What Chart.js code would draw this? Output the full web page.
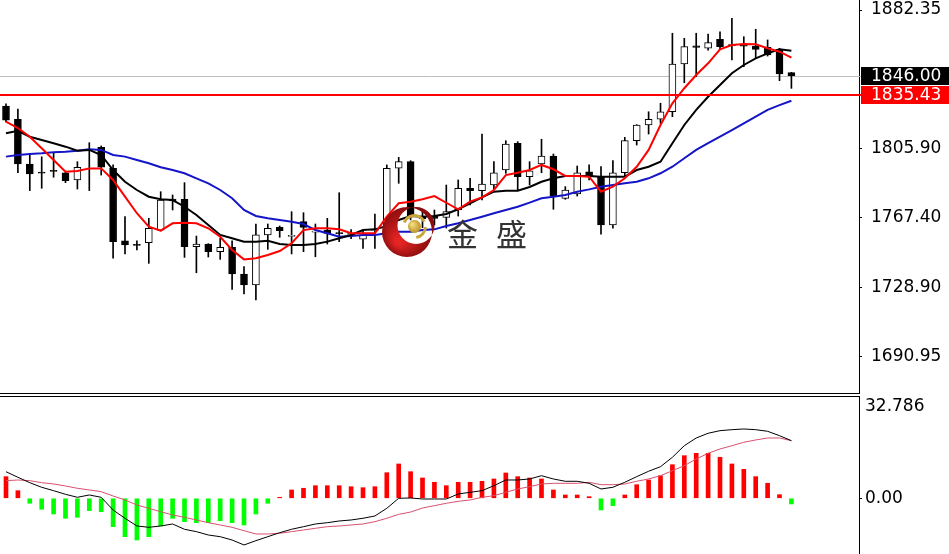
<!DOCTYPE html>
<html>
<head>
<meta charset="utf-8">
<script src="https://cdn.jsdelivr.net/npm/chart.js@4.4.0/dist/chart.umd.min.js"></script>
<style>
  html, body { margin: 0; padding: 0; background: #fff; }
  #wrap { position: relative; width: 949px; height: 554px; overflow: hidden; }
  #mainChart { position: absolute; left: 0; top: 0; }
  #macdChart { position: absolute; left: 0; top: 394px; }
</style>
</head>
<body>
<div id="wrap">
  <canvas id="mainChart" width="949" height="394"></canvas>
  <canvas id="macdChart" width="949" height="160"></canvas>
</div>
<script>
// candles
var open = [1829.3, 1821.9, 1797.2, 1792.7, 1793.5, 1792.4, 1788.4, 1804.8, 1806.45, 1794.85,
    1754.8, 1752.7, 1753.7, 1760.7, 1777.8, 1777.7, 1751.5, 1753.0, 1748.75, 1751.2,
    1736.4, 1730.4, 1758.0, 1762.2, 1757.2, 1765.35, 1759.6, 1760.7, 1759.1, 1758.3,
    1755.6, 1760.5, 1759.6, 1794.85, 1798.5, 1768.5, 1768.45, 1767.75, 1771.8, 1783.8,
    1782.45, 1785.6, 1793.9, 1808.65, 1790.2, 1797.2, 1801.6, 1778.25, 1780.65, 1792.95,
    1790.2, 1763.5, 1792.4, 1810.1, 1818.8, 1821.95, 1826.1, 1852.5, 1862.5, 1861.2,
    1866.15, 1863.2, 1862.8, 1862.45, 1861.75, 1860.6, 1847.7];

var high = [1830.5, 1827.6, 1802.2, 1801.2, 1803.5, 1792.8, 1798.5, 1809.0, 1807.2, 1796.7,
    1768.1, 1754.8, 1767.2, 1781.9, 1780.1, 1786.9, 1757.4, 1753.2, 1756.1, 1754.8,
    1740.45, 1764.05, 1764.05, 1762.95, 1770.85, 1770.3, 1764.05, 1767.2, 1781.35, 1761.0,
    1760.7, 1769.6, 1796.7, 1800.9, 1799.05, 1772.0, 1771.8, 1785.6, 1788.4, 1789.3,
    1813.8, 1798.5, 1810.1, 1809.55, 1798.5, 1810.9, 1802.75, 1784.7, 1796.1, 1796.7,
    1795.75, 1799.05, 1811.95, 1819.0, 1826.1, 1830.8, 1869.5, 1866.7, 1869.5, 1869.1,
    1870.35, 1877.75, 1867.6, 1871.7, 1865.8, 1861.2, 1847.9];

var low = [1820.5, 1792.4, 1782.5, 1783.8, 1789.9, 1786.9, 1783.4, 1782.5, 1791.1, 1745.1,
    1747.5, 1749.7, 1742.3, 1760.2, 1771.8, 1745.6, 1737.1, 1745.8, 1744.5, 1727.95,
    1725.35, 1722.05, 1750.05, 1756.7, 1747.5, 1748.75, 1745.95, 1753.0, 1754.3, 1756.0,
    1750.6, 1750.6, 1755.2, 1786.55, 1766.3, 1762.0, 1763.5, 1761.8, 1768.45, 1774.55,
    1777.3, 1782.85, 1792.05, 1782.85, 1785.6, 1792.4, 1772.2, 1777.7, 1779.5, 1788.4,
    1758.5, 1761.7, 1790.6, 1807.7, 1813.8, 1819.7, 1823.4, 1842.15, 1845.5, 1860.2,
    1861.0, 1854.7, 1851.0, 1855.65, 1856.9, 1843.3, 1839.05];

var close = [1821.5, 1797.2, 1791.7, 1792.1, 1793.1, 1788.0, 1795.4, 1805.3, 1795.4, 1754.3,
    1752.45, 1752.2, 1761.7, 1777.3, 1776.8, 1751.5, 1753.0, 1748.75, 1751.2, 1736.4,
    1730.4, 1758.0, 1761.7, 1760.35, 1757.7, 1762.2, 1760.0, 1758.9, 1758.7, 1758.7,
    1758.0, 1760.9, 1794.85, 1798.5, 1768.45, 1767.0, 1767.2, 1770.85, 1783.8, 1782.45,
    1786.15, 1792.4, 1808.3, 1790.2, 1793.5, 1801.6, 1779.5, 1782.85, 1792.4, 1790.2,
    1763.5, 1792.4, 1810.1, 1818.8, 1821.95, 1826.1, 1852.5, 1862.1, 1861.6, 1864.3,
    1862.1, 1862.7, 1862.3, 1860.6, 1857.5, 1847.0, 1846.0];

// moving averages (red / black / blue)
var maFast = [1820.6, 1817.1, 1812.3, 1805.9, 1799.4, 1793.0, 1793.35, 1794.8, 1794.8, 1788.4,
    1779.15, 1770.0, 1762.55, 1760.35, 1764.45, 1764.8, 1764.45, 1761.7, 1757.0, 1749.7,
    1744.5, 1745.1, 1746.9, 1749.1, 1753.4, 1760.7, 1761.7, 1761.7, 1761.1, 1758.9,
    1758.9, 1758.9, 1768.1, 1775.5, 1776.4, 1777.7, 1779.5, 1775.8, 1772.2, 1776.4,
    1778.8, 1782.85, 1791.1, 1792.4, 1793.9, 1796.7, 1794.3, 1790.6, 1790.6, 1790.2,
    1781.9, 1784.7, 1789.3, 1795.7, 1805.0, 1818.8, 1830.8, 1839.1, 1846.4, 1852.9,
    1860.6, 1863.0, 1863.6, 1863.4, 1861.2, 1859.3, 1856.0];

var maMid = [1814.2, 1815.6, 1812.3, 1810.5, 1808.7, 1806.8, 1804.6, 1805.0, 1802.2, 1793.9,
    1787.4, 1782.85, 1779.15, 1777.7, 1777.3, 1773.6, 1769.0, 1763.5, 1758.0, 1756.15,
    1754.3, 1754.3, 1754.8, 1753.0, 1752.45, 1752.45, 1753.0, 1754.3, 1756.15, 1757.95,
    1760.7, 1761.1, 1762.95, 1766.3, 1768.5, 1768.1, 1768.5, 1769.6, 1772.2, 1775.5,
    1778.8, 1781.9, 1782.5, 1782.5, 1784.5, 1787.4, 1789.3, 1790.6, 1790.6, 1790.6,
    1790.2, 1790.2, 1790.2, 1793.9, 1795.7, 1798.5, 1808.7, 1818.8, 1827.1, 1834.4,
    1840.9, 1847.4, 1851.95, 1855.65, 1858.4, 1860.6, 1859.85];

var maSlow = [1801.3, 1802.2, 1802.75, 1803.1, 1803.7, 1804.0, 1804.6, 1805.35, 1805.0, 1802.2,
    1801.3, 1799.4, 1797.6, 1795.4, 1793.9, 1792.1, 1789.3, 1786.55, 1782.85, 1778.3,
    1771.8, 1768.5, 1767.2, 1766.3, 1765.3, 1764.05, 1760.7, 1758.9, 1757.0, 1757.4,
    1757.95, 1757.95, 1758.9, 1759.8, 1759.8, 1760.7, 1761.1, 1762.95, 1764.45, 1766.3,
    1768.1, 1770.0, 1771.8, 1773.6, 1775.9, 1778.3, 1779.15, 1780.1, 1781.9, 1783.2,
    1784.7, 1785.6, 1786.55, 1787.4, 1789.3, 1792.1, 1795.7, 1800.4, 1805.0, 1808.7,
    1812.3, 1816.0, 1819.7, 1823.4, 1827.1, 1829.8, 1832.2];

// lower panel
var macdHist = [7.0, 2.46, -1.62, -3.56, -5.08, -6.47, -6.15, -4.01, -4.34, -9.19,
    -12.43, -13.5, -12.43, -8.96, -6.47, -7.57, -7.9, -7.9, -7.25, -7.9,
    -8.64, -5.08, -1.62, 0.32, 2.69, 3.24, 4.08, 4.08, 4.08, 3.75,
    3.43, 3.75, 8.28, 11.1, 8.61, 6.57, 5.18, 4.08, 5.18, 5.18,
    5.5, 6.25, 8.19, 7.0, 6.57, 6.25, 2.69, 1.07, 1.07, 0.52,
    -3.79, -2.39, 1.07, 4.4, 5.92, 7.31, 10.87, 13.79, 14.56, 14.56,
    13.27, 11.1, 9.38, 7.0, 4.85, 1.17, -1.84];

var macdLine = [8.6, 6.8, 5.05, 3.56, 2.46, 1.29, 0.32, 1.07, 0.32, -3.79,
    -6.47, -8.96, -9.39, -8.96, -8.32, -10.03, -10.8, -11.88, -12.43, -13.5,
    -15.11, -13.72, -12.43, -11.13, -10.03, -9.19, -8.32, -7.9, -7.35, -7.02,
    -6.47, -5.73, -3.24, 0.0, 0.1, -0.23, -0.23, -0.23, 1.39, 1.94,
    2.46, 4.08, 5.92, 5.92, 6.25, 7.31, 6.25, 5.5, 5.5, 4.85,
    3.01, 3.56, 5.18, 7.0, 8.74, 10.23, 13.27, 17.02, 19.51, 21.04,
    21.88, 22.2, 22.43, 22.2, 21.68, 20.26, 18.64];

var signalLine = [5.7, 5.92, 5.7, 5.05, 4.63, 3.98, 3.24, 2.69, 2.14, 0.74,
    -0.55, -2.17, -3.24, -4.34, -5.4, -6.15, -7.02, -7.9, -8.64, -9.39,
    -10.49, -11.55, -11.55, -11.33, -10.8, -10.26, -9.71, -9.19, -8.96, -8.64,
    -8.32, -7.57, -6.47, -5.2, -4.45, -3.14, -2.39, -1.62, -0.97, -0.55,
    0.32, 0.84, 1.94, 3.01, 3.75, 4.63, 4.85, 4.85, 4.85, 5.18,
    4.4, 4.4, 4.63, 5.5, 6.25, 7.31, 8.93, 10.55, 12.72, 14.56,
    15.95, 17.02, 18.12, 18.87, 19.51, 19.51, 18.64];

var priceTicks = [1882.35, 1805.90, 1767.40, 1728.90, 1690.95];
var macdTicks = [0];
var macdMaxLabel = '32.786';
var bidPrice = 1846.00;
var levelPrice = 1835.43;

var bars = close.map((v, i) => i);
var bodies = open.map((o, i) => [o, close[i]]);
var wicks = low.map((l, i) => [l, high[i]]);

const axisFont = { family: 'DejaVu Sans', size: 17 };


const mainPanelDraw = {
    id: 'mainPanelDraw',
    beforeDatasetsDraw(chart) {
        const ctx = chart.ctx;
        const area = chart.chartArea;
        const y = Math.round(chart.scales.y.getPixelForValue(bidPrice)) + 0.5;
        ctx.save();
        ctx.strokeStyle = '#c0c0c0';
        ctx.lineWidth = 1;
        ctx.beginPath();
        ctx.moveTo(area.left, y);
        ctx.lineTo(area.right + 2, y);
        ctx.stroke();
        ctx.restore();
    },
    afterDatasetsDraw(chart) {
        const ctx = chart.ctx;
        const area = chart.chartArea;
        const y = chart.scales.y.getPixelForValue(levelPrice);
        ctx.save();
        ctx.strokeStyle = '#ff0000';
        ctx.lineWidth = 2;
        ctx.beginPath();
        ctx.moveTo(area.left, y);
        ctx.lineTo(area.right + 2, y);
        ctx.stroke();

        // watermark logo
        const grad = ctx.createRadialGradient(398, 242, 3, 407, 232, 26);
        grad.addColorStop(0, '#e52424');
        grad.addColorStop(1, '#8c0d0d');
        ctx.beginPath();
        ctx.arc(407, 232, 25, 0, Math.PI * 2);
        ctx.arc(416, 225.5, 18.5, 0, Math.PI * 2, true);
        ctx.fillStyle = grad;
        ctx.fill('evenodd');

        ctx.strokeStyle = '#c9a53c';
        ctx.lineWidth = 3;
        ctx.beginPath();
        ctx.arc(414.5, 226.5, 11, Math.PI * 1.12, Math.PI * 1.85);
        ctx.stroke();
        ctx.beginPath();
        ctx.arc(414.5, 226.5, 11, Math.PI * 0.02, Math.PI * 0.45);
        ctx.stroke();
        const ball = ctx.createRadialGradient(412, 224, 1, 414.5, 226.5, 7);
        ball.addColorStop(0, '#f3dc7a');
        ball.addColorStop(1, '#b88e22');
        ctx.fillStyle = ball;
        ctx.beginPath();
        ctx.arc(414.5, 226.5, 6.5, 0, Math.PI * 2);
        ctx.fill();

        ctx.fillStyle = '#333333';
        ctx.font = '31px "Noto Sans CJK SC"';
        ctx.textBaseline = 'middle';
        ctx.fillText('金', 447, 234);
        ctx.fillText('盛', 496, 234);
        ctx.restore();
    },
    afterDraw(chart) {
        const ctx = chart.ctx;
        const area = chart.chartArea;
        const yScale = chart.scales.y;
        ctx.save();
        ctx.strokeStyle = '#000';
        ctx.lineWidth = 1;
        ctx.beginPath();
        ctx.moveTo(0, area.bottom + 0.5);
        ctx.lineTo(area.right + 1, area.bottom + 0.5);
        ctx.stroke();

        ctx.font = axisFont.size + 'px "' + axisFont.family + '"';
        ctx.textBaseline = 'middle';
        const boxes = [[levelPrice, '#ff0000'], [bidPrice, '#000000']];
        boxes.forEach(b => {
            const y = yScale.getPixelForValue(b[0]);
            ctx.fillStyle = b[1];
            ctx.fillRect(area.right + 2, Math.round(y) - 9, 949 - area.right - 2, 18);
            ctx.fillStyle = '#fff';
            ctx.fillText(b[0].toFixed(2), area.right + 12, y + 1);
        });
        ctx.restore();
    }
};

const mainConfig = {
    type: 'bar',
    data: {
        labels: bars,
        datasets: [{
                type: 'line',
                label: 'MA red',
                data: maFast,
                borderColor: '#ff0000',
                borderWidth: 2,
                pointRadius: 0,
                order: 0
            },
            {
                type: 'line',
                label: 'MA black',
                data: maMid,
                borderColor: '#000000',
                borderWidth: 2,
                pointRadius: 0,
                order: 1
            },
            {
                type: 'line',
                label: 'MA blue',
                data: maSlow,
                borderColor: '#1414c8',
                borderWidth: 2,
                pointRadius: 0,
                order: 2
            },
            {
                label: 'Body',
                data: bodies,
                backgroundColor: open.map((o, i) => close[i] >= o ? '#ffffff' : '#000000'),
                borderColor: '#000000',
                borderWidth: 1,
                borderSkipped: false,
                barThickness: 7,
                minBarLength: 1,
                grouped: false,
                order: 3
            },
            {
                label: 'Wick',
                data: wicks,
                backgroundColor: '#000000',
                borderWidth: 0,
                barThickness: 1,
                grouped: false,
                order: 4
            }
        ]
    },
    options: {
        responsive: false,
        animation: false,
        devicePixelRatio: 1,
        layout: { padding: { left: 0, right: 0, top: 0, bottom: 1 } },
        plugins: { legend: { display: false }, tooltip: { enabled: false } },
        scales: {
            x: { type: 'linear', min: -0.504, max: 71.68, offset: false, display: false },
            y: {
                position: 'right',
                min: 1670.63,
                max: 1887.88,
                afterBuildTicks: s => { s.ticks = priceTicks.map(v => ({ value: v })); },
                afterFit: s => { s.width = 90; s.paddingTop = 0; s.paddingBottom = 0; },
                grid: { drawOnChartArea: false, tickLength: 3, color: '#000' },
                border: { display: true, color: '#000', width: 1 },
                ticks: { color: '#000', font: axisFont, padding: 9, callback: v => v.toFixed(2) }
            }
        }
    },
    plugins: [mainPanelDraw]
};

const mainChart = new Chart(document.getElementById('mainChart'), mainConfig);


const macdPanelDraw = {
    id: 'macdPanelDraw',
    afterDraw(chart) {
        const ctx = chart.ctx;
        const area = chart.chartArea;
        ctx.save();
        ctx.strokeStyle = '#000';
        ctx.lineWidth = 1;
        ctx.beginPath();
        ctx.moveTo(0, area.top + 0.5);
        ctx.lineTo(area.right + 1, area.top + 0.5);
        ctx.stroke();
        ctx.fillStyle = '#000';
        ctx.font = axisFont.size + 'px "' + axisFont.family + '"';
        ctx.textBaseline = 'middle';
        ctx.fillText(macdMaxLabel, area.right + 6, area.top + 11);
        ctx.restore();
    }
};

const macdConfig = {
    type: 'bar',
    data: {
        labels: bars,
        datasets: [{
                type: 'line',
                label: 'MACD',
                data: macdLine,
                borderColor: '#000000',
                borderWidth: 1,
                pointRadius: 0,
                order: 0
            },
            {
                type: 'line',
                label: 'Signal',
                data: signalLine,
                borderColor: '#d9506e',
                borderWidth: 1,
                pointRadius: 0,
                order: 1
            },
            {
                label: 'Histogram',
                data: macdHist,
                backgroundColor: macdHist.map(v => v >= 0 ? '#ff0000' : '#00ff00'),
                borderWidth: 0,
                barThickness: 4,
                grouped: false,
                order: 2
            }
        ]
    },
    options: {
        responsive: false,
        animation: false,
        devicePixelRatio: 1,
        layout: { padding: { left: 0, right: 0, top: 2, bottom: 0 } },
        plugins: { legend: { display: false }, tooltip: { enabled: false } },
        scales: {
            x: { type: 'linear', min: -0.504, max: 71.68, offset: false, display: false },
            y: {
                position: 'right',
                min: -18.03,
                max: 33.1,
                afterBuildTicks: s => { s.ticks = macdTicks.map(v => ({ value: v })); },
                afterFit: s => { s.width = 90; s.paddingTop = 0; s.paddingBottom = 0; },
                grid: { drawOnChartArea: false, tickLength: 3, color: '#000' },
                border: { display: true, color: '#000', width: 1 },
                ticks: { color: '#000', font: axisFont, padding: 3, callback: v => v.toFixed(2) }
            }
        }
    },
    plugins: [macdPanelDraw]
};

const macdChart = new Chart(document.getElementById('macdChart'), macdConfig);
</script>
</body>
</html>
